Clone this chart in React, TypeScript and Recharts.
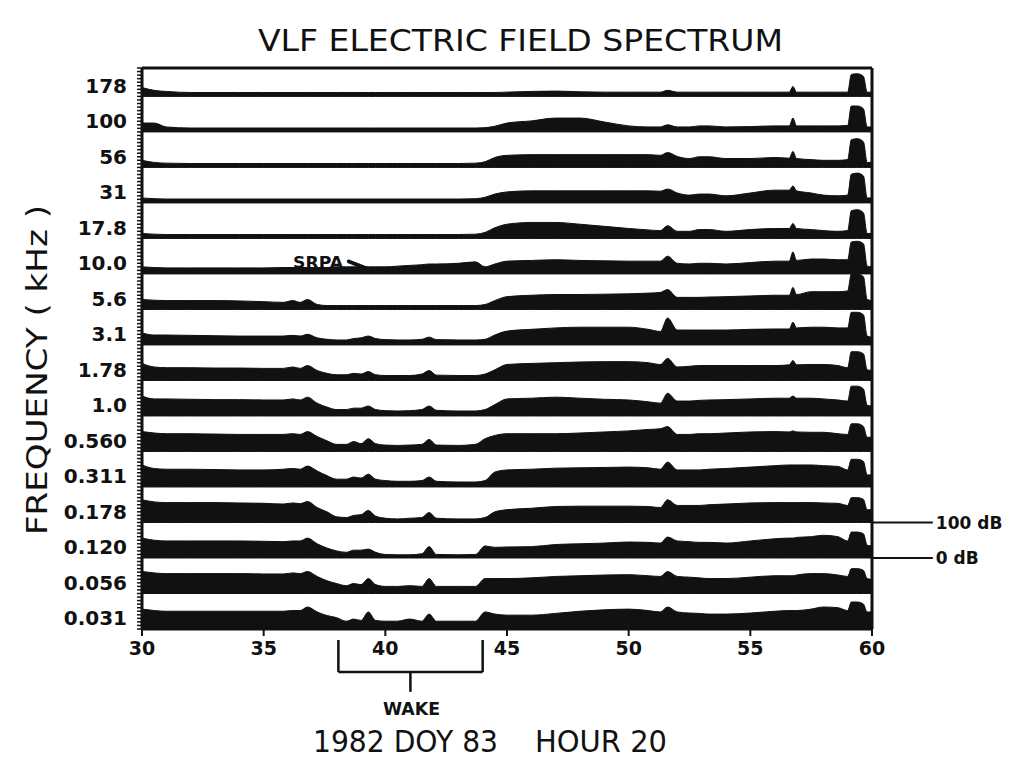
import React from 'react';
import { ComposedChart, Area, XAxis, YAxis, ReferenceLine } from 'recharts';

// time axis, minutes of hour 20
const minutes = [
  30, 30.5, 31, 32, 33, 34, 35, 35.8, 36.2, 36.5,
  36.8, 37.2, 37.6, 38, 38.4, 38.7, 39, 39.3, 39.6, 40,
  40.5, 41, 41.5, 41.8, 42.1, 43, 43.7, 44.1, 44.5, 45,
  46, 47, 48, 49, 50, 50.8, 51.3, 51.6, 52, 52.5,
  52.9, 53.3, 54, 55, 56, 56.6, 56.75, 56.9, 57.5, 58,
  58.6, 59, 59.15, 59.4, 59.65, 59.8, 60,
];

// channel labels (kHz), top strip first
const freqLabels = ['178', '100', '56', '31', '17.8', '10.0', '5.6', '3.1', '1.78', '1.0', '0.560', '0.311', '0.178', '0.120', '0.056', '0.031'];

// dB above each channel's 0 dB line, 100 dB per strip
const f178 = [
  25, 17, 14, 11, 11, 11, 11, 11, 11, 11,
  11, 11, 11, 11, 11, 11, 11, 11, 11, 11,
  11, 11, 11, 11, 11, 11, 11, 11, 11, 12,
  14, 15, 13, 12, 12, 12, 12, 17, 12, 12,
  12, 12, 12, 12, 12, 12, 28, 12, 12, 12,
  12, 12, 62, 64, 56, 12, 12,
];
const f100 = [
  25, 25, 14, 11, 11, 11, 11, 11, 11, 11,
  11, 11, 11, 11, 11, 11, 11, 11, 11, 11,
  11, 11, 11, 11, 11, 11, 11, 12, 16, 25,
  31, 39, 39, 28, 17, 14, 14, 20, 14, 14,
  17, 17, 14, 15, 17, 17, 39, 17, 17, 17,
  17, 18, 73, 73, 65, 14, 14,
];
const f56 = [
  20, 14, 12, 11, 11, 11, 11, 11, 11, 11,
  11, 11, 11, 11, 11, 11, 11, 11, 11, 11,
  11, 11, 11, 11, 11, 11, 12, 16, 28, 34,
  36, 36, 36, 36, 36, 36, 34, 42, 31, 25,
  30, 30, 25, 25, 28, 26, 45, 25, 22, 20,
  20, 22, 78, 81, 72, 14, 14,
];
const f31 = [
  14, 12, 11, 11, 11, 11, 11, 11, 11, 11,
  11, 11, 11, 11, 11, 11, 11, 11, 11, 11,
  11, 11, 11, 11, 11, 11, 12, 16, 25, 31,
  34, 34, 34, 34, 34, 34, 33, 39, 28, 22,
  25, 25, 20, 28, 36, 36, 48, 34, 28, 22,
  20, 22, 81, 84, 76, 14, 14,
];
const f17_8 = [
  14, 12, 11, 11, 11, 11, 11, 11, 11, 11,
  11, 11, 11, 11, 11, 11, 11, 11, 11, 11,
  11, 11, 11, 11, 11, 11, 12, 17, 30, 40,
  45, 45, 40, 34, 28, 24, 22, 36, 20, 20,
  25, 25, 20, 25, 28, 28, 42, 28, 25, 22,
  20, 22, 78, 81, 72, 14, 14,
];
const f10 = [
  20, 18, 17, 17, 17, 17, 17, 18, 18, 18,
  18, 18, 18, 20, 20, 20, 20, 20, 20, 20,
  22, 24, 26, 28, 28, 30, 34, 20, 28, 36,
  38, 40, 38, 37, 36, 36, 36, 50, 30, 28,
  30, 30, 28, 32, 36, 36, 62, 38, 42, 42,
  40, 40, 90, 92, 85, 22, 20,
];
const f5_6 = [
  28, 26, 25, 25, 25, 24, 22, 20, 25, 20,
  28, 14, 11, 11, 11, 11, 11, 11, 11, 11,
  11, 11, 11, 11, 11, 11, 11, 14, 25, 36,
  40, 42, 42, 43, 44, 46, 48, 56, 34, 34,
  34, 35, 36, 38, 40, 40, 62, 42, 50, 50,
  50, 52, 100, 100, 92, 28, 25,
];
const f3_1 = [
  34, 28, 28, 27, 26, 25, 25, 25, 27, 25,
  30, 20, 16, 14, 14, 18, 20, 25, 18, 15,
  14, 14, 16, 22, 15, 14, 14, 16, 28, 39,
  44, 48, 50, 50, 50, 44, 38, 76, 42, 42,
  42, 42, 42, 44, 45, 45, 64, 48, 50, 50,
  48, 48, 92, 92, 85, 25, 22,
];
const f1_78 = [
  48, 38, 36, 36, 35, 35, 34, 34, 38, 34,
  42, 28, 20, 16, 16, 20, 18, 25, 16, 14,
  14, 14, 18, 28, 15, 14, 14, 18, 30, 45,
  48, 50, 52, 53, 53, 50, 45, 62, 38, 40,
  42, 42, 42, 42, 42, 44, 56, 44, 45, 45,
  42, 36, 81, 81, 75, 30, 28,
];
const f1_0 = [
  56, 48, 48, 47, 46, 46, 45, 45, 48, 45,
  53, 36, 25, 18, 18, 22, 22, 28, 18, 15,
  14, 15, 18, 28, 16, 14, 14, 18, 32, 48,
  50, 53, 50, 47, 45, 40, 36, 64, 42, 42,
  44, 45, 46, 48, 50, 50, 56, 50, 50, 48,
  45, 42, 84, 84, 76, 30, 28,
];
const f0_560 = [
  56, 52, 50, 50, 49, 48, 48, 48, 50, 48,
  56, 42, 30, 20, 20, 28, 22, 36, 22, 18,
  17, 18, 20, 34, 18, 17, 20, 36, 45, 50,
  50, 50, 52, 55, 58, 62, 64, 70, 48, 48,
  50, 50, 52, 55, 56, 55, 58, 55, 54, 54,
  50, 48, 78, 78, 70, 40, 40,
];
const f0_311 = [
  62, 52, 50, 50, 49, 48, 48, 50, 52, 50,
  59, 45, 32, 22, 22, 28, 25, 36, 22, 18,
  16, 16, 18, 28, 16, 14, 14, 18, 42, 48,
  50, 53, 54, 55, 56, 54, 50, 70, 48, 48,
  48, 50, 52, 56, 60, 62, 62, 62, 62, 60,
  58, 48, 78, 78, 72, 34, 34,
];
const f0_178 = [
  64, 58, 56, 56, 56, 55, 54, 52, 55, 53,
  59, 42, 30, 16, 14, 20, 22, 34, 18, 12,
  10, 12, 14, 28, 12, 10, 10, 14, 30, 36,
  40, 45, 46, 46, 46, 45, 42, 64, 48, 48,
  48, 50, 52, 55, 56, 56, 56, 56, 56, 55,
  54, 48, 70, 70, 65, 36, 36,
];
const f0_120 = [
  56, 50, 48, 48, 48, 48, 47, 46, 48, 48,
  56, 40, 28, 20, 16, 22, 22, 25, 16, 10,
  9, 9, 12, 32, 10, 9, 10, 34, 30, 31,
  32, 38, 40, 42, 45, 44, 42, 59, 48, 46,
  44, 44, 42, 48, 54, 56, 56, 58, 60, 64,
  60, 48, 73, 73, 68, 36, 34,
];
const f0_056 = [
  62, 58, 56, 56, 56, 56, 55, 55, 58, 56,
  62, 48, 36, 28, 22, 28, 25, 42, 25, 20,
  20, 22, 20, 42, 20, 20, 20, 42, 42, 42,
  44, 48, 50, 52, 53, 50, 48, 62, 48, 46,
  44, 42, 42, 46, 50, 50, 50, 52, 56, 56,
  52, 48, 70, 70, 65, 42, 40,
];
const f0_031 = [
  56, 52, 50, 50, 50, 50, 50, 50, 52, 52,
  62, 48, 38, 32, 22, 28, 24, 48, 24, 22,
  22, 28, 22, 42, 22, 22, 22, 48, 42, 39,
  39, 44, 50, 54, 56, 52, 48, 62, 48, 45,
  44, 42, 42, 45, 50, 52, 52, 52, 56, 62,
  60, 52, 76, 76, 70, 48, 48,
];

const strips = [f178, f100, f56, f31, f17_8, f10, f5_6, f3_1, f1_78, f1_0, f0_560, f0_311, f0_178, f0_120, f0_056, f0_031];

const xTicks = [30, 35, 40, 45, 50, 55, 60];

const STRIP_DB = 100;
const Y_TOP = 1580;
const INK = '#111';
const FONT = '"DejaVu Sans", Verdana, sans-serif';

const FreqTick = (props: any) => {
  const { x, y, payload } = props;
  const v = payload.value;
  if (v % STRIP_DB !== 30) return <g />;
  const k = strips.length - 1 - Math.floor(v / STRIP_DB);
  return (
    <text x={x} y={y} dy={7} textAnchor="end" fill={INK} fontSize={20} fontWeight="bold" fontFamily={FONT}>
      {freqLabels[k]}
    </text>
  );
};

const NoTick = () => <g />;

export default function App() {
  const rows = minutes.map((t, i) => {
    const row: Record<string, number> = { t };
    strips.forEach((s, k) => {
      row[`s${k}`] = s[i];
    });
    return row;
  });
  const yTicks: number[] = [];
  for (let v = 0; v <= Y_TOP; v += 10) yTicks.push(v);

  const bracket = { stroke: INK, strokeWidth: 2.5 };
  const dbLabel = { position: 'right' as const, offset: 3, fill: INK, fontSize: 17, fontWeight: 'bold', fontFamily: FONT };

  return (
    <div style={{ position: 'absolute', left: 0, top: 0, width: 1010, height: 761, background: '#fff' }}>
      <ComposedChart width={1010} height={761} data={rows} margin={{ top: 63, right: 128, bottom: 92, left: 82 }}>
        <XAxis
          xAxisId="b"
          dataKey="t"
          type="number"
          domain={[30, 60]}
          ticks={xTicks}
          allowDataOverflow
          height={40}
          axisLine={{ stroke: INK, strokeWidth: 3 }}
          tickLine={{ stroke: INK, strokeWidth: 2 }}
          tickSize={7}
          tickMargin={6}
          tick={{ fill: INK, fontSize: 19, fontWeight: 'bold', fontFamily: FONT }}
        />
        <XAxis
          xAxisId="t"
          orientation="top"
          type="number"
          domain={[30, 60]}
          height={5}
          tick={false}
          tickLine={false}
          axisLine={{ stroke: INK, strokeWidth: 3 }}
        />
        <YAxis
          yAxisId="l"
          type="number"
          domain={[0, Y_TOP]}
          ticks={yTicks}
          interval={0}
          allowDataOverflow
          width={60}
          axisLine={{ stroke: INK, strokeWidth: 3 }}
          tickLine={{ stroke: INK, strokeWidth: 1.5 }}
          tickSize={5}
          tickMargin={10}
          tick={FreqTick}
        />
        <YAxis
          yAxisId="r"
          orientation="right"
          type="number"
          domain={[0, Y_TOP]}
          ticks={yTicks}
          interval={0}
          width={10}
          axisLine={{ stroke: INK, strokeWidth: 3 }}
          tickLine={{ stroke: INK, strokeWidth: 1.5 }}
          tickSize={5}
          tick={NoTick}
        />

        {strips.map((_, k) => {
          const base = (strips.length - 1 - k) * STRIP_DB;
          return (
            <Area
              key={freqLabels[k]}
              xAxisId="b"
              yAxisId="l"
              type="monotone"
              dataKey={(d: any) => [base, base + d[`s${k}`]]}
              stroke={INK}
              strokeWidth={1}
              fill={INK}
              fillOpacity={1}
              dot={false}
              activeDot={false}
              isAnimationActive={false}
            />
          );
        })}

        {/* 100 dB / 0 dB reference for the 0.120 kHz strip */}
        <ReferenceLine
          xAxisId="b"
          yAxisId="l"
          ifOverflow="visible"
          segment={[{ x: 60, y: 300 }, { x: 62.5, y: 300 }]}
          stroke={INK}
          strokeWidth={2}
          label={{ value: '100 dB', ...dbLabel }}
        />
        <ReferenceLine
          xAxisId="b"
          yAxisId="l"
          ifOverflow="visible"
          segment={[{ x: 60, y: 200 }, { x: 62.5, y: 200 }]}
          stroke={INK}
          strokeWidth={2}
          label={{ value: '0 dB', ...dbLabel }}
        />

        {/* wake bracket */}
        <ReferenceLine xAxisId="b" yAxisId="l" ifOverflow="visible" segment={[{ x: 38.07, y: -31 }, { x: 38.07, y: -121 }]} {...bracket} />
        <ReferenceLine xAxisId="b" yAxisId="l" ifOverflow="visible" segment={[{ x: 44.0, y: -31 }, { x: 44.0, y: -121 }]} {...bracket} />
        <ReferenceLine xAxisId="b" yAxisId="l" ifOverflow="visible" segment={[{ x: 38.07, y: -121 }, { x: 44.0, y: -121 }]} {...bracket} />
        <ReferenceLine xAxisId="b" yAxisId="l" ifOverflow="visible" segment={[{ x: 41.03, y: -121 }, { x: 41.03, y: -177 }]} {...bracket} />

        {/* SRPA arrow */}
        <ReferenceLine
          xAxisId="b"
          yAxisId="l"
          ifOverflow="visible"
          segment={[{ x: 38.5, y: 1035 }, { x: 39.35, y: 1012 }]}
          stroke={INK}
          strokeWidth={4}
          strokeLinecap="round"
        />
      </ComposedChart>

      <svg width={1010} height={761} style={{ position: 'absolute', left: 0, top: 0, pointerEvents: 'none' }}>
        <text x={258} y={51} fontSize={31} fontFamily={FONT} fill={INK} textLength={525} lengthAdjust="spacingAndGlyphs">
          VLF ELECTRIC FIELD SPECTRUM
        </text>
        <text
          x={47}
          y={370}
          transform="rotate(-90 47 370)"
          textAnchor="middle"
          fontSize={28}
          fontFamily={FONT}
          fill={INK}
          textLength={330}
          lengthAdjust="spacingAndGlyphs"
        >
          FREQUENCY ( kHz )
        </text>
        <text x={313} y={752} fontSize={31} fontFamily={FONT} fill={INK} textLength={185} lengthAdjust="spacingAndGlyphs">
          1982 DOY 83
        </text>
        <text x={535} y={752} fontSize={31} fontFamily={FONT} fill={INK} textLength={132} lengthAdjust="spacingAndGlyphs">
          HOUR 20
        </text>
        <text x={383} y={715} fontSize={18} fontWeight="bold" fontFamily={FONT} fill={INK} textLength={57} lengthAdjust="spacingAndGlyphs">
          WAKE
        </text>
        <text x={293} y={268} fontSize={15} fontWeight="bold" fontFamily={FONT} fill={INK} textLength={50} lengthAdjust="spacingAndGlyphs">
          SRPA
        </text>
      </svg>
    </div>
  );
}
